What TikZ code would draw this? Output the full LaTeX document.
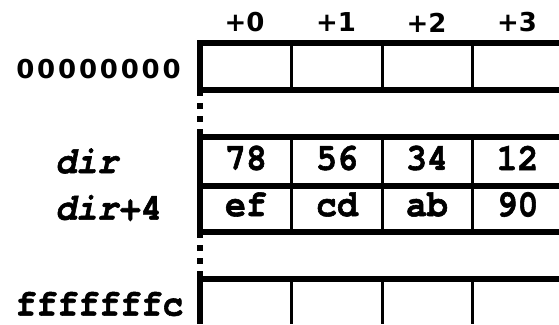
\documentclass[tikz,border=0pt]{standalone}
\usepackage{fontspec}
\setmainfont{TeX Gyre Cursor}
\newfontfamily\hdrfont{DejaVu Sans}
\newfontfamily\codefont{TeX Gyre Cursor}[Ligatures=NoCommon, FakeStretch=0.92,
  BoldFeatures={FakeBold=1.5}, BoldItalicFeatures={FakeBold=1.5}]
\newcommand\widechar[1]{\makebox[20.9pt]{#1}}
\begin{document}
\begin{tikzpicture}[x=1pt,y=-1pt,
  hdr/.style={font=\hdrfont\bfseries\fontsize{26}{26}\selectfont, inner sep=0pt},
  code/.style={font=\codefont\bfseries\fontsize{38}{38}\selectfont, inner sep=0pt},
  codeit/.style={font=\codefont\bfseries\itshape\fontsize{38}{38}\selectfont, inner sep=0pt},
  rowline/.style={line width=6pt},
  cellline/.style={line width=3pt},
  leftline/.style={line width=6pt},
  gapline/.style={line width=6pt, dash pattern=on 6pt off 7pt}]
\useasboundingbox (0,0) rectangle (559,324);
% horizontal thick lines
\foreach \y in {43,90,136.5,186,232,279}
  \draw[rowline] (197,\y) -- (559,\y);
% thin cell separators
\foreach \x in {291.5,382,472.5}{
  \draw[cellline] (\x,43) -- (\x,90);
  \draw[cellline] (\x,136.5) -- (\x,232);
  \draw[cellline] (\x,279) -- (\x,324);
}
% left vertical line with dotted gaps
\draw[leftline] (200,40) -- (200,90);
\draw[gapline] (200,90) -- (200,136.5);
\draw[leftline] (200,136.5) -- (200,232);
\draw[gapline] (200,232) -- (200,279);
\draw[leftline] (200,279) -- (200,324);
% column headers
\node[hdr] (h0) at (244.5,22.5) {+0};
\node[hdr] (h1) at (336,22.5) {+1};
\node[hdr] (h2) at (426.5,22.5) {+2};
\node[hdr] (h3) at (517,22.5) {+3};
% row labels
\node[hdr] (a0) at (98.5,69.5) {\widechar0\widechar0\widechar0\widechar0\widechar0\widechar0\widechar0\widechar0};
\node[codeit, anchor=west] (dir) at (55,161) {dir};
\node[codeit, anchor=west] (dir4) at (55,208) {dir\textup{+4}};
\node[code] (aF) at (99.5,304) {fffffffc};
% cell contents
\node[code] (c78) at (246,158) {78};
\node[code] (c56) at (337,158) {56};
\node[code] (c34) at (427,158) {34};
\node[code] (c12) at (517.5,158) {12};
\node[code] (cef) at (246,204.5) {ef};
\node[code] (ccd) at (337,204.5) {cd};
\node[code] (cab) at (427,204.5) {ab};
\node[code] (c90) at (517.5,204.5) {90};
\end{tikzpicture}
\end{document}
